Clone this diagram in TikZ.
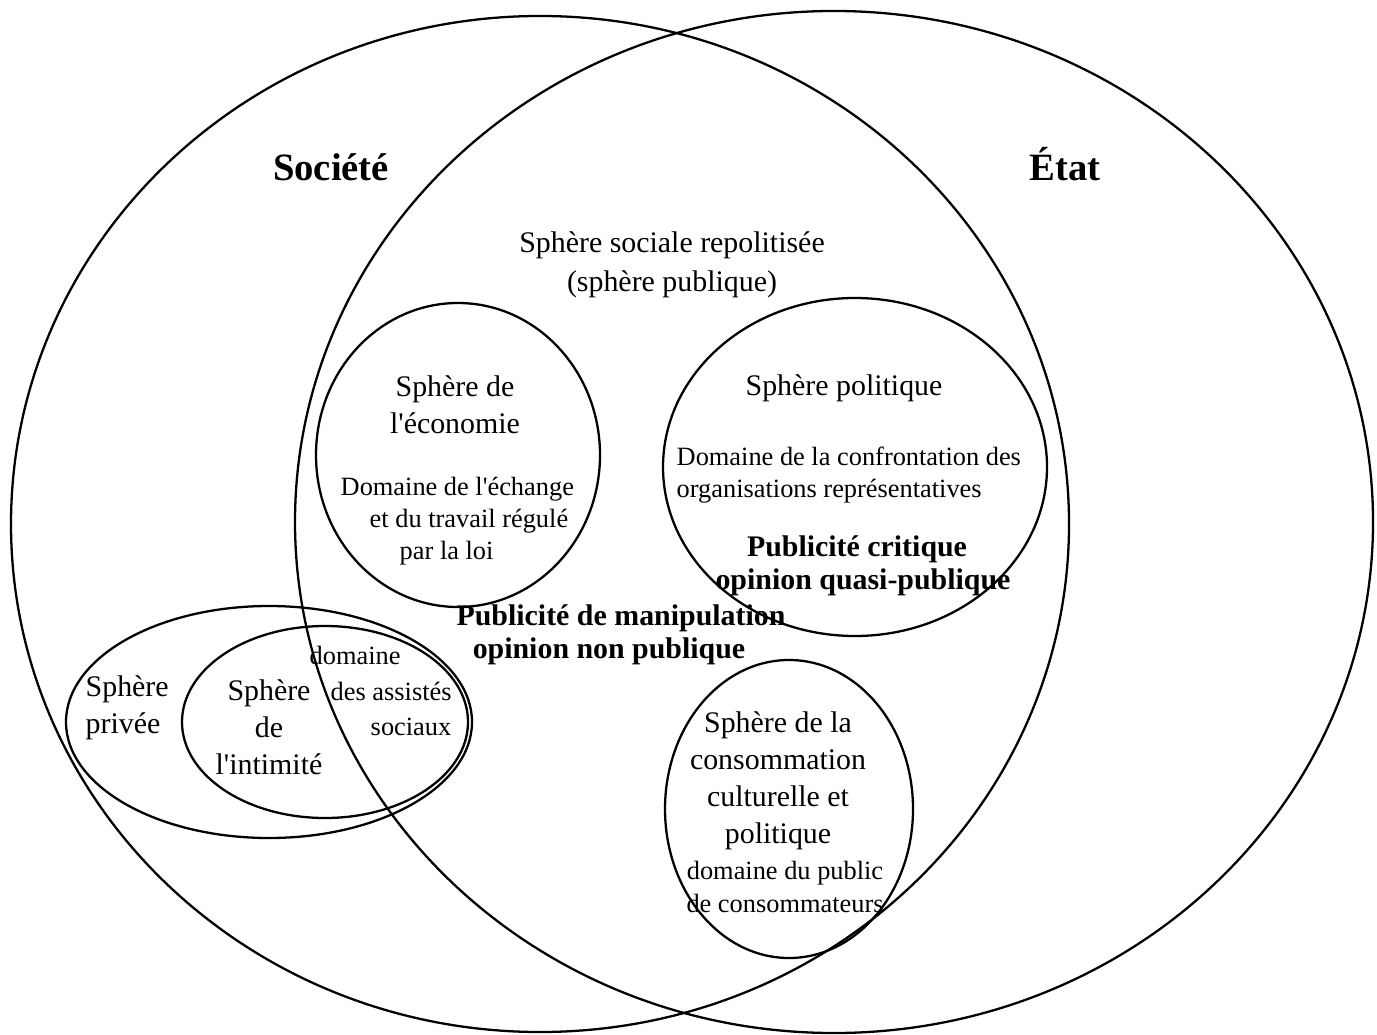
\documentclass[tikz,border=0pt]{standalone}
\usepackage{fontspec}
\setmainfont{Liberation Serif}[Ligatures=TeXOff]
\usetikzlibrary{positioning}

\tikzset{
  titre/.style={font=\fontsize{11}{13}\selectfont\bfseries, inner sep=0pt, anchor=base},
  corps/.style={font=\fontsize{8.5}{10.5}\selectfont, align=center, inner sep=0pt},
  petit/.style={font=\fontsize{7.5}{9.2}\selectfont, inner sep=0pt},
  gras/.style={font=\fontsize{8.5}{9.3}\selectfont\bfseries, align=center, inner sep=0pt},
  sphere/.style={line width=0.65pt}
}

\begin{document}
\begin{tikzpicture}[x=0.01cm, y=-0.01cm]
\useasboundingbox (0,0) rectangle (1377,1034);

% --- Société / État ---
\draw[sphere] (540,524) ellipse [x radius=529, y radius=508];
\draw[sphere] (834,522) ellipse [x radius=539, y radius=511];
\node[titre] (societe) at (331,181) {Société};
\node[titre] (etat) at (1065,181) {État};

% --- sphère publique ---
\node[corps] (sociale) at (672,265) {Sphère sociale repolitisée\\[0.5pt](sphère publique)};

% --- économie ---
\draw[sphere] (458,455) ellipse [x radius=142, y radius=152];
\node[corps] (econ) at (455,405) {Sphère de\\l'économie};
\node[petit, align=left, anchor=west] (econdom) at (340,521)
  {Domaine de l'échange\\\hspace*{0.29cm}et du travail régulé\\\hspace*{0.59cm}par la loi};

% --- politique ---
\draw[sphere] (855,467) ellipse [x radius=192, y radius=169];
\node[corps] (polit) at (844,388) {Sphère politique};
\node[petit, align=left, anchor=west] (politdom) at (676,475)
  {Domaine de la confrontation des\\organisations représentatives};
\node[gras] (critique) at (857,566) {Publicité critique\\\hspace*{0.12cm}opinion quasi-publique};

% --- manipulation ---
\node[gras] (manip) at (621,635) {Publicité de manipulation\\opinion non publique\hspace*{0.24cm}};

% --- privée / intimité ---
\draw[sphere] (269,722) ellipse [x radius=203, y radius=116];
\draw[sphere] (325,722) ellipse [x radius=143, y radius=96];
\node[corps, align=left, anchor=west] (privee) at (85,708) {Sphère\\privée};
\node[corps] (intim) at (269,727) {Sphère\\de\\l'intimité};
\node[petit, font=\fontsize{7.5}{10.2}\selectfont, align=left, anchor=west] (assist) at (309,691)
  {domaine\\\hspace*{0.21cm}des assistés\\\hspace*{0.61cm}sociaux};

% --- consommation ---
\draw[sphere] (789,809) ellipse [x radius=124, y radius=149];
\node[corps] (conso) at (778,781) {Sphère de la\\consommation\\culturelle et\\politique};
\node[petit, align=center] (consodom) at (785,887) {domaine du public\\de consommateurs};

\end{tikzpicture}
\end{document}
